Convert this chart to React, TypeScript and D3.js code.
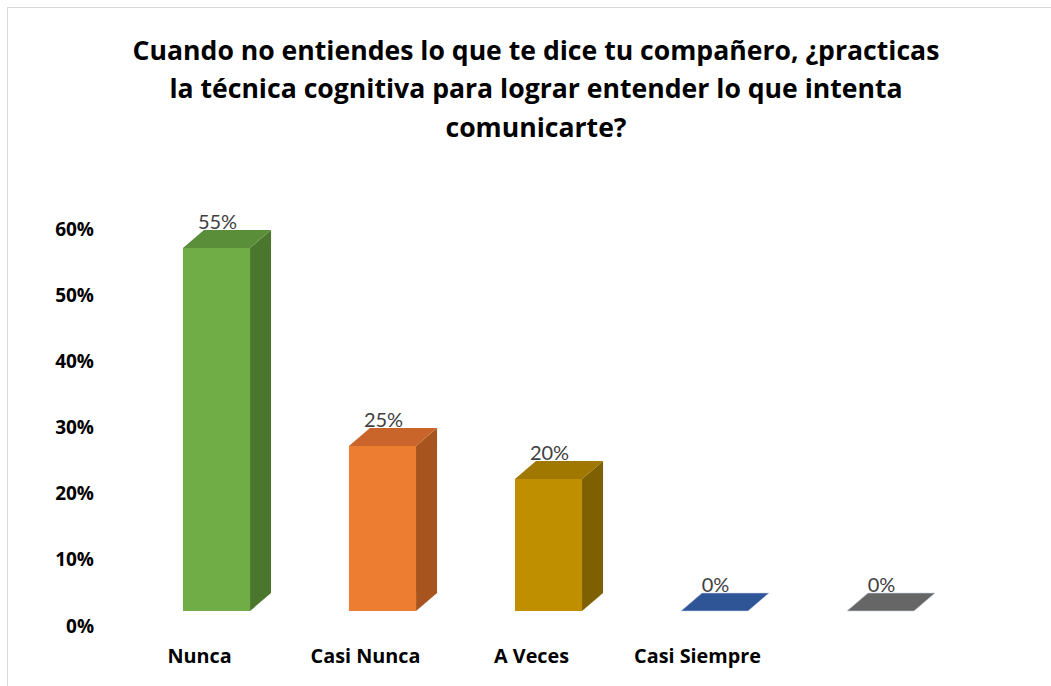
import React from "react";
import * as d3 from "d3";

const categories = ["Nunca", "Casi Nunca", "A Veces", "Casi Siempre", ""];
const values = [0.55, 0.25, 0.2, 0, 0];
const dataLabels = ["55%", "25%", "20%", "0%", "0%"];
const yTicks = [0, 0.1, 0.2, 0.3, 0.4, 0.5, 0.6];
const titleLines = [
  "Cuando no entiendes lo que te dice tu compañero, ¿practicas",
  "la técnica cognitiva para lograr entender lo que intenta",
  "comunicarte?",
];
const faceColors = [
  { front: "#70AD47", top: "#5A8E39", side: "#4A772D" },
  { front: "#ED7D31", top: "#C9652A", side: "#A8541F" },
  { front: "#BF8F00", top: "#A07800", side: "#7F6000" },
  { front: "#2F5597", top: "#2F5597", side: "#22407A" },
  { front: "#666666", top: "#666666", side: "#4D4D4D" },
];

export default function App() {
  const W = 1051;
  const H = 686;
  const dx = 21;
  const dy = -18;
  const x = d3
    .scaleBand<string>()
    .domain(categories)
    .range([133.5, 963.5])
    .paddingInner(0.596)
    .paddingOuter(0.298);
  const yFront = d3.scaleLinear().domain([0, 0.6]).range([611, 215]);
  const yLabel = d3.scaleLinear().domain([0, 0.6]).range([626, 229]);
  const fmt = d3.format(".0%");
  const bw = x.bandwidth();
  const boldFont = "'Open Sans', sans-serif";
  const font = "Lato, 'Open Sans', sans-serif";

  return (
    <div style={{ position: "absolute", left: 0, top: 0 }}>
      <svg width={W} height={H} style={{ display: "block" }}>
        <rect x={0} y={0} width={W} height={H} fill="#ffffff" />
        <rect x={7.5} y={7.5} width={W + 20} height={H + 20} fill="#ffffff" stroke="#d9d9d9" strokeWidth={1} />
        {titleLines.map((t, i) => (
          <text
            key={i}
            x={536}
            y={59.5 + i * 38.5}
            textAnchor="middle"
            fontFamily={boldFont}
            fontWeight="bold"
            fontSize={26.6}
            fill="#000000"
          >
            {t}
          </text>
        ))}
        {yTicks.map((t) => (
          <text
            key={t}
            x={94}
            y={yLabel(t)}
            dy="0.35em"
            textAnchor="end"
            fontFamily={boldFont}
            fontWeight="bold"
            fontSize={19}
            fill="#000000"
          >
            {fmt(t)}
          </text>
        ))}
        {categories.map((c, i) => {
          const x0 = x(c) as number;
          const y0 = yFront(0);
          const yt = yFront(values[i]);
          const col = faceColors[i];
          const top = [
            [x0, yt],
            [x0 + dx, yt + dy],
            [x0 + bw + dx, yt + dy],
            [x0 + bw, yt],
          ];
          const side = [
            [x0 + bw, yt],
            [x0 + bw + dx, yt + dy],
            [x0 + bw + dx, y0 + dy],
            [x0 + bw, y0],
          ];
          const pts = (p: number[][]) => p.map((q) => q.join(",")).join(" ");
          return (
            <g key={i}>
              {values[i] > 0 && <polygon points={pts(side)} fill={col.side} />}
              <polygon points={pts(top)} fill={col.top} stroke={values[i] > 0 ? "none" : "#c9d3e6"} strokeWidth={0.6} />
              {values[i] > 0 && (
                <rect x={x0} y={yt} width={bw} height={y0 - yt} fill={col.front} />
              )}
              <text
                x={x0 + bw / 2 + 1}
                y={yt + dy - 1}
                textAnchor="middle"
                fontFamily={font}
                fontSize={20}
                fill="#404040"
              >
                {dataLabels[i]}
              </text>
              {c && (
                <text
                  x={x0 + bw / 2 - 17}
                  y={663}
                  textAnchor="middle"
                  fontFamily={boldFont}
                  fontWeight="bold"
                  fontSize={19.8}
                  fill="#000000"
                >
                  {c}
                </text>
              )}
            </g>
          );
        })}
      </svg>
    </div>
  );
}
